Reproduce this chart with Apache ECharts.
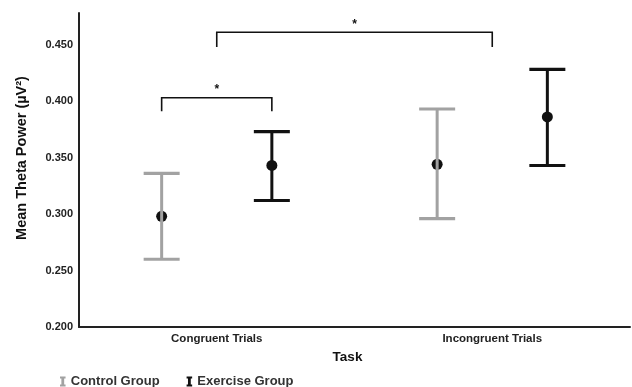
<!DOCTYPE html>
<html>
<head>
<meta charset="utf-8">
<script src="https://cdn.jsdelivr.net/npm/echarts@6/dist/echarts.min.js"></script>
<style>html,body{margin:0;padding:0;background:#fff}#c{width:632px;height:387px}</style>
</head>
<body>
<div id="c"></div>
<script>
// ---- data ----
const categories = ['Congruent Trials', 'Incongruent Trials'];
const groups = ['Control Group', 'Exercise Group'];
const controlMean = [0.298, 0.344];
const controlLow = [0.260, 0.296];
const controlHigh = [0.336, 0.393];
const exerciseMean = [0.343, 0.386];
const exerciseLow = [0.312, 0.343];
const exerciseHigh = [0.373, 0.428];
const yTicks = [0.200, 0.250, 0.300, 0.350, 0.400, 0.450];
// significance brackets: category index + group side (-1 control, 0 centre, 1 exercise)
const bracketFromCat = [0, 0];
const bracketFromSide = [-1, 0];
const bracketToCat = [0, 1];
const bracketToSide = [1, 0];
const bracketTop = [0.403, 0.461];
const bracketFoot = [0.391, 0.448];
const bracketLabel = ['*', '*'];

const FONT = 'Liberation Sans, Arial, sans-serif';
const OFF = 0.2; // fraction of band width for group offset
const colors = ['#a2a2a2', '#111111'];

function errRender(side, color) {
  return function (params, api) {
    const cat = api.value(0);
    const band = api.size([1, 0])[0];
    const dx = side * OFF * band;
    const pm = api.coord([cat, api.value(1)]);
    const pl = api.coord([cat, api.value(2)]);
    const ph = api.coord([cat, api.value(3)]);
    const x = pm[0] + dx;
    const hw = 18;
    const st = { stroke: color, lineWidth: 3.2 };
    return {
      type: 'group',
      children: [
        { type: 'circle', shape: { cx: x, cy: pm[1], r: 5.5 }, style: { fill: '#111' } },
        { type: 'line', shape: { x1: x, y1: pl[1], x2: x, y2: ph[1] }, style: { stroke: color, lineWidth: 3 } },
        { type: 'line', shape: { x1: x - hw, y1: ph[1], x2: x + hw, y2: ph[1] }, style: st },
        { type: 'line', shape: { x1: x - hw, y1: pl[1], x2: x + hw, y2: pl[1] }, style: st }
      ]
    };
  };
}

function bracketRender(params, api) {
  const i = params.dataIndex;
  const band = api.size([1, 0])[0];
  const a = api.coord([bracketFromCat[i], bracketTop[i]]);
  const b = api.coord([bracketToCat[i], bracketTop[i]]);
  const f = api.coord([bracketFromCat[i], bracketFoot[i]]);
  const x1 = a[0] + bracketFromSide[i] * OFF * band;
  const x2 = b[0] + bracketToSide[i] * OFF * band;
  const y = a[1], yf = f[1];
  const st = { stroke: '#111', lineWidth: 1.6, fill: null };
  return {
    type: 'group',
    children: [
      { type: 'polyline', shape: { points: [[x1, yf], [x1, y], [x2, y], [x2, yf]] }, style: st },
      { type: 'text', x: (x1 + x2) / 2, y: y - 2, style: { text: bracketLabel[i], fill: '#111', font: 'bold 12px ' + FONT, textAlign: 'center', textVerticalAlign: 'bottom' } }
    ]
  };
}

function rows(mean, low, high) {
  return categories.map((c, i) => [i, mean[i], low[i], high[i]]);
}

const iconPath = 'path://M0,0 H10 V3.5 H7.5 V14.5 H10 V18 H0 V14.5 H2.5 V3.5 H0 Z';

const chart = echarts.init(document.getElementById('c'), null, { renderer: 'canvas' });
chart.setOption({
  animation: false,
  backgroundColor: '#fff',
  textStyle: { fontFamily: FONT },
  grid: { left: 79, right: 2, top: 13, bottom: 60, containLabel: false },
  legend: {
    left: 60, top: 375, padding: 0, itemGap: 27, itemWidth: 6, itemHeight: 10,
    textStyle: { fontFamily: FONT, fontWeight: 'bold', fontSize: 13, color: '#333' },
    data: [
      { name: groups[0], icon: iconPath, itemStyle: { color: colors[0] } },
      { name: groups[1], icon: iconPath, itemStyle: { color: colors[1] } }
    ]
  },
  xAxis: {
    type: 'category', data: categories,
    name: 'Task', nameLocation: 'middle', nameGap: 21,
    nameTextStyle: { fontFamily: FONT, fontWeight: 'bold', fontSize: 13.5, color: '#111', padding: [0, 14, 0, 0] },
    axisLine: { lineStyle: { color: '#222', width: 2 } },
    axisTick: { show: false },
    axisLabel: { fontFamily: FONT, fontWeight: 'bold', fontSize: 11.5, color: '#222', margin: 6 }
  },
  yAxis: {
    type: 'value', min: yTicks[0], max: 0.478, interval: 0.05,
    name: 'Mean Theta Power (µV²)', nameLocation: 'middle', nameGap: 50,
    nameTextStyle: { fontFamily: FONT, fontWeight: 'bold', fontSize: 14.5, color: '#111', padding: [0, 0, 0, 24] },
    axisLine: { show: true, lineStyle: { color: '#222', width: 2 } },
    axisTick: { show: false },
    splitLine: { show: false },
    axisLabel: {
      fontFamily: FONT, fontWeight: 'bold', fontSize: 11, color: '#222', margin: 6, showMaxLabel: false,
      formatter: v => (yTicks.some(t => Math.abs(t - v) < 1e-6) ? v.toFixed(3) : '')
    }
  },
  series: [
    { name: groups[0], type: 'custom', renderItem: errRender(-1, colors[0]), itemStyle: { color: colors[0] }, encode: { x: 0, y: [1, 2, 3] }, data: rows(controlMean, controlLow, controlHigh), z: 3 },
    { name: groups[1], type: 'custom', renderItem: errRender(1, colors[1]), itemStyle: { color: colors[1] }, encode: { x: 0, y: [1, 2, 3] }, data: rows(exerciseMean, exerciseLow, exerciseHigh), z: 3 },
    { name: 'brackets', type: 'custom', renderItem: bracketRender, encode: { x: 0, y: 1 }, data: bracketTop.map((t, i) => [bracketFromCat[i], t]), z: 4 }
  ]
});
</script>
</body>
</html>
